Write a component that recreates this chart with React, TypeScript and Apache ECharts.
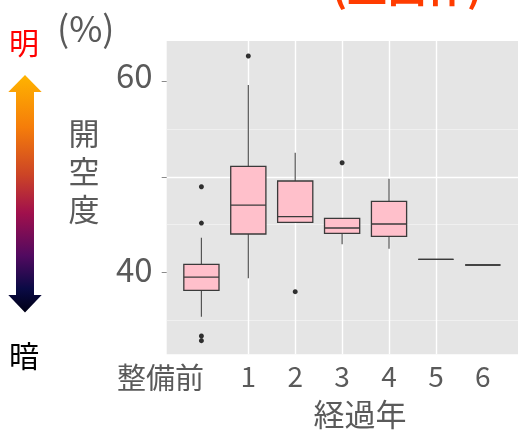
import React, { useEffect, useRef } from "react";
import * as echarts from "echarts";

const categories = ["整備前", "1", "2", "3", "4", "5", "6"];
const whiskerLow = [35.34, 39.37, 45.25, 42.94, 42.48, 41.36, 40.77];
const q1 = [38.11, 44.02, 45.25, 44.09, 43.78, 41.36, 40.77];
const median = [39.5, 47.06, 45.84, 44.65, 45.07, 41.36, 40.77];
const q3 = [40.84, 51.12, 49.58, 45.67, 47.45, 41.36, 40.77];
const whiskerHigh = [43.63, 59.65, 52.55, 45.67, 49.82, 41.36, 40.77];
const outlierCategory = [0, 0, 0, 0, 1, 2, 3];
const outlierValue = [48.98, 45.17, 33.32, 32.83, 62.7, 37.97, 51.5];
const yTickValues = [40, 50, 60];
const yLabelValues = [40, 60];
const categoryIndex = [0, 1, 2, 3, 4, 5, 6];

const FONT = '"Noto Sans CJK JP", "Noto Sans", sans-serif';
const GRAY = "#5a5a5a";

export default function App() {
  const ref = useRef<HTMLDivElement>(null);
  useEffect(() => {
    if (!ref.current) return;
    const chart = echarts.init(ref.current, undefined, { renderer: "svg" });
    const boxData = categories.map((_, i) => [i, whiskerLow[i], q1[i], median[i], q3[i], whiskerHigh[i]]);
    const outlierData = outlierCategory.map((c, i) => [c, outlierValue[i]]);
    const arrowGradient = {
      type: "linear", x: 0, y: 0, x2: 0, y2: 1,
      colorStops: [
        { offset: 0, color: "#ffb400" },
        { offset: 0.22, color: "#f57d0a" },
        { offset: 0.42, color: "#cc4426" },
        { offset: 0.58, color: "#a1104c" },
        { offset: 0.76, color: "#520a60" },
        { offset: 0.9, color: "#0a0a45" },
        { offset: 1, color: "#000015" },
      ],
    };
    chart.setOption({
      animation: false,
      grid: {
        left: 166.7, top: 41, width: 360.3, height: 313.3,
        show: true, backgroundColor: "#e5e5e5", borderWidth: 0,
      },
      xAxis: {
        type: "value", min: -0.74, max: 6.75, splitNumber: 8,
        axisLine: { show: false, onZero: false },
        axisTick: { show: false, customValues: categoryIndex },
        axisLabel: {
          customValues: categoryIndex,
          margin: 7, color: GRAY, fontSize: 28, fontFamily: FONT,
          formatter: (v: number) => {
            const i = Math.round(v);
            if (Math.abs(v - i) > 1e-6 || i < 0 || i > 6) return "";
            return i === 0 ? "{a|" + categories[0] + "}" : categories[i];
          },
          rich: { a: { fontSize: 29, fontFamily: FONT, color: GRAY, padding: [0, 82, 0, 0] } },
        },
        splitLine: { show: true, showMinLine: false, showMaxLine: false, lineStyle: { color: "#ffffff", width: 1.4 } },
      },
      yAxis: {
        type: "value", min: 31.4, max: 64.27, splitNumber: 4,
        axisLine: { show: false, onZero: false },
        axisTick: { show: true, length: 5, customValues: yTickValues, lineStyle: { color: "#8a8a8a", width: 1 } },
        axisLabel: {
          customValues: yLabelValues,
          margin: 14, color: GRAY, fontSize: 33, fontFamily: FONT,
          formatter: (v: number) => {
            if (Math.abs(v - 60) < 1e-6) return "{a|60}";
            if (Math.abs(v - 40) < 1e-6) return "{b|40}";
            return "";
          },
          rich: {
            a: { fontSize: 33, fontFamily: FONT, color: GRAY, padding: [0, 0, 15, 0] },
            b: { fontSize: 33, fontFamily: FONT, color: GRAY, padding: [0, 0, 8, 0] },
          },
        },
        splitLine: { show: true, showMinLine: false, showMaxLine: false, lineStyle: { color: "#ffffff", width: 1.4 } },
        minorTick: { show: false, splitNumber: 2 },
        minorSplitLine: { show: true, lineStyle: { color: "#f2f2f2", width: 0.8 } },
      },
      series: [
        {
          type: "custom",
          encode: { x: 0, y: [1, 2, 3, 4, 5] },
          data: boxData,
          renderItem: (params: any, api: any) => {
            const x = api.value(0);
            const half = api.size([1, 0])[0] * 0.375;
            const pLow = api.coord([x, api.value(1)]);
            const pQ1 = api.coord([x, api.value(2)]);
            const pMed = api.coord([x, api.value(3)]);
            const pQ3 = api.coord([x, api.value(4)]);
            const pHigh = api.coord([x, api.value(5)]);
            const whisker = { stroke: "#555555", lineWidth: 1.2 };
            const border = { stroke: "#3a3a3a", lineWidth: 1.3 };
            return {
              type: "group",
              children: [
                { type: "line", shape: { x1: pQ3[0], y1: pQ3[1], x2: pHigh[0], y2: pHigh[1] }, style: whisker },
                { type: "line", shape: { x1: pQ1[0], y1: pQ1[1], x2: pLow[0], y2: pLow[1] }, style: whisker },
                {
                  type: "rect",
                  shape: { x: pQ3[0] - half, y: pQ3[1], width: half * 2, height: pQ1[1] - pQ3[1] },
                  style: { fill: "#ffc0cb", ...border },
                },
                { type: "line", shape: { x1: pMed[0] - half, y1: pMed[1], x2: pMed[0] + half, y2: pMed[1] }, style: border },
              ],
            };
          },
          z: 2,
        },
        {
          type: "scatter",
          data: outlierData,
          symbol: "circle",
          symbolSize: 5,
          itemStyle: { color: "#000000" },
          z: 3,
        },
      ],
      graphic: [
        {
          type: "polygon",
          shape: {
            points: [
              [25, 75], [41.7, 92], [34, 92], [34, 295], [41.7, 295],
              [25, 312.5], [8.3, 295], [16, 295], [16, 92], [8.3, 92],
            ],
          },
          style: { fill: arrowGradient as any },
        },
        { type: "text", x: 24, y: 41, style: { text: "明", fill: "#ff0000", font: `30px ${FONT}`, textAlign: "center", textVerticalAlign: "middle" } },
        { type: "text", x: 24, y: 353.5, style: { text: "暗", fill: "#000000", font: `30px ${FONT}`, textAlign: "center", textVerticalAlign: "middle" } },
        { type: "text", x: 57, y: 26, style: { text: "(%)", fill: GRAY, font: `36px ${FONT}`, textAlign: "left", textVerticalAlign: "middle" } },
        { type: "text", x: 84, y: 169, style: { text: "開\n空\n度", fill: GRAY, font: `31px ${FONT}`, lineHeight: 38, textAlign: "center", textVerticalAlign: "middle" } },
        { type: "text", x: 360, y: 412, style: { text: "経過年", fill: GRAY, font: `31px ${FONT}`, textAlign: "center", textVerticalAlign: "middle" } },
        { type: "text", x: 407, y: 5, style: { text: "(上出作)", fill: "#ff3c00", font: `bold 40px ${FONT}`, textAlign: "center", textVerticalAlign: "bottom" } },
      ],
    });
    return () => chart.dispose();
  }, []);
  return <div ref={ref} style={{ position: "fixed", left: 0, top: 0, width: 518, height: 432 }} />;
}
